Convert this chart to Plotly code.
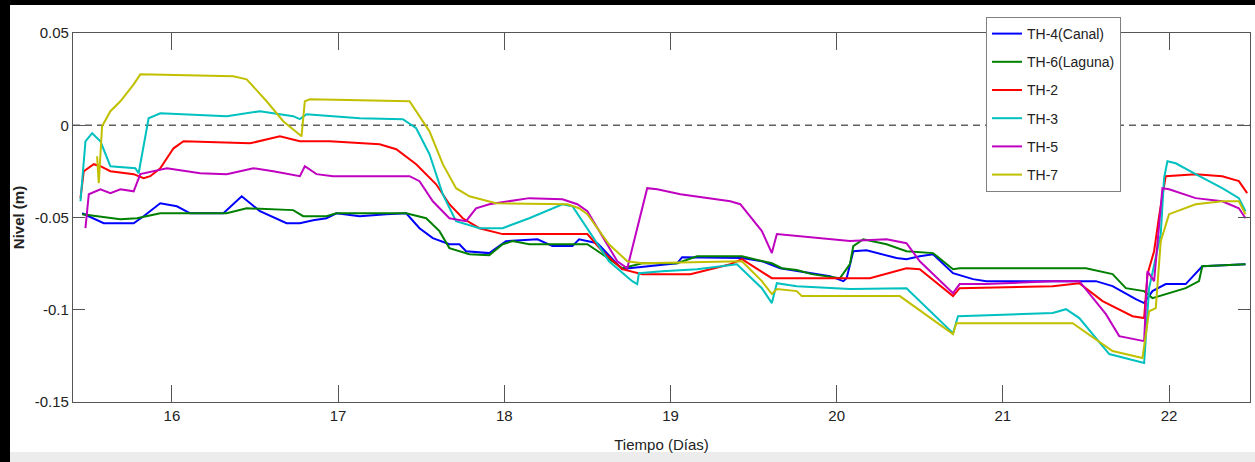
import plotly.graph_objects as go

# ---------------- data ----------------
series_names = ["TH-4(Canal)", "TH-6(Laguna)", "TH-2", "TH-3", "TH-5", "TH-7"]

days_th4 = [15.46, 15.59, 15.77, 15.83, 15.93, 16.03, 16.11, 16.31, 16.42, 16.53,
            16.69, 16.77, 16.85, 16.93, 16.99, 17.13, 17.29, 17.41, 17.49, 17.57,
            17.67, 17.73, 17.77, 17.91, 18.01, 18.20, 18.29, 18.41, 18.45, 18.56,
            18.68, 18.71, 18.75, 19.04, 19.07, 19.43, 19.55, 19.66, 19.96, 20.04,
            20.06, 20.10, 20.18, 20.36, 20.42, 20.50, 20.58, 20.70, 20.82, 20.90,
            21.56, 21.66, 21.80, 21.85, 21.90, 21.98, 22.10, 22.20, 22.46]
nivel_th4 = [-0.0477, -0.0531, -0.0531, -0.0493, -0.0423, -0.0439, -0.0477, -0.0477, -0.0385, -0.0466,
             -0.0531, -0.0531, -0.0515, -0.0504, -0.0477, -0.0493, -0.0482, -0.0477, -0.0558, -0.0612,
             -0.0645, -0.0645, -0.0683, -0.0693, -0.0628, -0.0618, -0.0655, -0.0655, -0.0618, -0.0639,
             -0.0753, -0.0780, -0.0775, -0.0748, -0.0715, -0.0720, -0.0737, -0.0775, -0.0818, -0.0845,
             -0.0829, -0.0683, -0.0677, -0.0720, -0.0726, -0.0710, -0.0699, -0.0802, -0.0834, -0.0845,
             -0.0845, -0.0872, -0.0943, -0.0964, -0.0899, -0.0861, -0.0861, -0.0764, -0.0753]

days_th6 = [15.46, 15.69, 15.79, 15.93, 16.33, 16.45, 16.73, 16.79, 16.93, 16.99,
            17.41, 17.53, 17.61, 17.67, 17.79, 17.91, 17.99, 18.05, 18.15, 18.50,
            18.59, 18.71, 18.83, 19.04, 19.16, 19.43, 19.61, 19.67, 19.76, 19.85,
            20.02, 20.08, 20.10, 20.16, 20.30, 20.42, 20.58, 20.70, 20.74, 21.50,
            21.66, 21.74, 21.85, 21.90, 22.10, 22.18, 22.20, 22.46]
nivel_th6 = [-0.0482, -0.0509, -0.0504, -0.0477, -0.0477, -0.0450, -0.0460, -0.0493, -0.0493, -0.0477,
             -0.0477, -0.0504, -0.0574, -0.0666, -0.0699, -0.0704, -0.0645, -0.0628, -0.0645, -0.0645,
             -0.0699, -0.0775, -0.0748, -0.0748, -0.0710, -0.0710, -0.0748, -0.0775, -0.0785, -0.0807,
             -0.0829, -0.0753, -0.0655, -0.0618, -0.0645, -0.0683, -0.0693, -0.0780, -0.0775, -0.0775,
             -0.0807, -0.0883, -0.0899, -0.0937, -0.0883, -0.0845, -0.0764, -0.0753]

days_th2 = [15.45, 15.47, 15.53, 15.57, 15.63, 15.77, 15.83, 15.87, 15.93, 16.01,
            16.07, 16.47, 16.65, 16.77, 16.95, 17.25, 17.35, 17.47, 17.59, 17.67,
            17.75, 17.85, 17.99, 18.26, 18.50, 18.59, 18.71, 18.83, 19.12, 19.36,
            19.43, 19.61, 20.20, 20.42, 20.50, 20.70, 20.74, 21.30, 21.46, 21.60,
            21.78, 21.85, 21.87, 21.91, 21.94, 21.98, 22.16, 22.32, 22.42, 22.47]
nivel_th2 = [-0.0395, -0.0249, -0.0211, -0.0222, -0.0249, -0.0265, -0.0287, -0.0276, -0.0233, -0.0125,
             -0.0087, -0.0098, -0.0060, -0.0087, -0.0087, -0.0103, -0.0130, -0.0211, -0.0320, -0.0428,
             -0.0504, -0.0558, -0.0590, -0.0590, -0.0590, -0.0683, -0.0780, -0.0807, -0.0807, -0.0753,
             -0.0726, -0.0829, -0.0829, -0.0775, -0.0780, -0.0926, -0.0883, -0.0872, -0.0856, -0.0953,
             -0.1035, -0.1045, -0.0807, -0.0683, -0.0493, -0.0276, -0.0265, -0.0276, -0.0303, -0.0368]

days_th3 = [15.45, 15.48, 15.52, 15.57, 15.63, 15.78, 15.80, 15.86, 15.93, 16.33,
            16.53, 16.73, 16.77, 16.81, 17.13, 17.39, 17.47, 17.55, 17.63, 17.71,
            17.85, 17.99, 18.15, 18.35, 18.41, 18.51, 18.63, 18.77, 18.80, 18.81,
            18.95, 19.16, 19.40, 19.55, 19.61, 19.64, 19.76, 20.08, 20.42, 20.70,
            20.73, 21.30, 21.38, 21.46, 21.64, 21.85, 21.88, 21.95, 21.97, 21.99,
            22.04, 22.16, 22.32, 22.42, 22.46]
nivel_th3 = [-0.0412, -0.0087, -0.0043, -0.0087, -0.0222, -0.0233, -0.0260, 0.0038, 0.0065, 0.0049,
             0.0076, 0.0049, 0.0033, 0.0060, 0.0038, 0.0033, -0.0016, -0.0157, -0.0374, -0.0520,
             -0.0558, -0.0558, -0.0504, -0.0428, -0.0439, -0.0574, -0.0737, -0.0845, -0.0861, -0.0802,
             -0.0791, -0.0780, -0.0753, -0.0883, -0.0964, -0.0856, -0.0872, -0.0888, -0.0883, -0.1127,
             -0.1035, -0.1018, -0.0997, -0.1045, -0.1240, -0.1289, -0.0883, -0.0590, -0.0287, -0.0195,
             -0.0206, -0.0265, -0.0341, -0.0395, -0.0466]

days_th5 = [15.48, 15.50, 15.57, 15.63, 15.69, 15.77, 15.81, 15.93, 15.97, 16.17,
            16.33, 16.49, 16.61, 16.77, 16.80, 16.87, 16.97, 17.43, 17.49, 17.57,
            17.67, 17.77, 17.83, 17.91, 18.15, 18.35, 18.44, 18.50, 18.68, 18.74,
            18.80, 18.86, 18.92, 19.06, 19.36, 19.42, 19.55, 19.61, 19.64, 19.76,
            20.08, 20.30, 20.42, 20.50, 20.70, 20.74, 20.90, 21.30, 21.46, 21.62,
            21.70, 21.85, 21.87, 21.91, 21.96, 22.00, 22.16, 22.32, 22.42, 22.46]
nivel_th5 = [-0.0558, -0.0374, -0.0347, -0.0368, -0.0347, -0.0358, -0.0265, -0.0238, -0.0233, -0.0260,
             -0.0265, -0.0233, -0.0249, -0.0276, -0.0222, -0.0265, -0.0276, -0.0276, -0.0303, -0.0412,
             -0.0504, -0.0520, -0.0450, -0.0428, -0.0395, -0.0401, -0.0428, -0.0466, -0.0737, -0.0775,
             -0.0558, -0.0341, -0.0347, -0.0374, -0.0412, -0.0428, -0.0574, -0.0693, -0.0590, -0.0601,
             -0.0628, -0.0618, -0.0639, -0.0737, -0.0910, -0.0861, -0.0861, -0.0845, -0.0845, -0.1024,
             -0.1143, -0.1170, -0.0791, -0.0845, -0.0341, -0.0347, -0.0395, -0.0412, -0.0450, -0.0504]

days_th7 = [15.55, 15.56, 15.58, 15.63, 15.69, 15.77, 15.81, 16.37, 16.45, 16.57,
            16.67, 16.78, 16.80, 16.83, 17.43, 17.55, 17.63, 17.71, 17.79, 17.95,
            18.38, 18.45, 18.50, 18.63, 18.74, 18.83, 19.43, 19.55, 19.61, 19.64,
            19.76, 19.79, 20.38, 20.70, 20.72, 21.42, 21.66, 21.84, 21.88, 21.92,
            21.95, 22.00, 22.16, 22.32, 22.42, 22.46]
nivel_th7 = [-0.0168, -0.0314, -0.0005, 0.0076, 0.0130, 0.0222, 0.0276, 0.0265, 0.0249, 0.0130,
             0.0022, -0.0060, 0.0130, 0.0141, 0.0130, -0.0033, -0.0211, -0.0341, -0.0385, -0.0423,
             -0.0428, -0.0450, -0.0482, -0.0645, -0.0737, -0.0748, -0.0737, -0.0845, -0.0915, -0.0888,
             -0.0899, -0.0926, -0.0926, -0.1132, -0.1073, -0.1073, -0.1224, -0.1262, -0.1008, -0.0991,
             -0.0628, -0.0482, -0.0428, -0.0412, -0.0412, -0.0482]

x_tick_vals = [16, 17, 18, 19, 20, 21, 22]
x_tick_text = ["16", "17", "18", "19", "20", "21", "22"]
y_tick_vals = [0.05, 0, -0.05, -0.1, -0.15]
y_tick_text = ["0.05", "0", "-0.05", "-0.1", "-0.15"]
reference_level = 0

# ---------------- styling ----------------
colors = ["#0000ff", "#008000", "#ff0000", "#00c0c0", "#c000c0", "#c0c000"]
W, H = 1255, 462
L, R, T, B = 73, 5, 33, 60
pw, ph = W - L - R, H - T - B


def pxx(px):
    return (px - L) / pw


def pxy(py):
    return (H - B - py) / ph


series = [
    (days_th4, nivel_th4), (days_th6, nivel_th6), (days_th2, nivel_th2),
    (days_th3, nivel_th3), (days_th5, nivel_th5), (days_th7, nivel_th7),
]

fig = go.Figure()
for name, color, (xs, ys) in zip(series_names, colors, series):
    fig.add_trace(go.Scatter(
        x=xs, y=ys, mode="lines", name=name, legendgroup=name,
        line=dict(color=color, width=2),
    ))

font_family = "Arial, Liberation Sans, sans-serif"
axis_common = dict(
    showgrid=False, zeroline=False, showline=True, linecolor="#555555",
    linewidth=1.3, mirror="allticks", ticks="inside", tickcolor="#555555",
    tickwidth=1.3, tickfont=dict(family=font_family, size=15, color="#222222"),
)

fig.update_layout(
    width=W, height=H,
    margin=dict(l=L, r=R, t=T, b=B, autoexpand=False),
    paper_bgcolor="white", plot_bgcolor="white",
    showlegend=True,
    legend=dict(
        x=pxx(986), y=pxy(17), xanchor="left", yanchor="top",
        bgcolor="white", bordercolor="#808080", borderwidth=1,
        font=dict(family=font_family, size=14, color="#222222"),
        tracegroupgap=7, traceorder="grouped",
    ),
    xaxis=dict(
        range=[15.405, 22.487], tickvals=x_tick_vals, ticktext=x_tick_text,
        ticklen=17,
        title=dict(text="Tiempo (Días)", standoff=16,
                   font=dict(family=font_family, size=15, color="#222222")),
        **axis_common,
    ),
    yaxis=dict(
        range=[-0.15, 0.05], tickvals=y_tick_vals, ticktext=y_tick_text,
        ticklen=12,
        title=dict(text="<b>Nivel (m)</b>", standoff=6,
                   font=dict(family=font_family, size=15, color="#222222")),
        **axis_common,
    ),
    shapes=[
        # dashed zero reference line
        dict(type="line", xref="paper", yref="y", x0=0, x1=1,
             y0=reference_level, y1=reference_level,
             line=dict(color="#606060", width=1.5, dash="7px,5px"), layer="below"),
        # photo frame: black left and top bands, light bottom strip
        dict(type="rect", xref="paper", yref="paper", x0=pxx(0), x1=pxx(10),
             y0=pxy(H), y1=pxy(0), fillcolor="black", line=dict(width=0), layer="above"),
        dict(type="rect", xref="paper", yref="paper", x0=pxx(0), x1=pxx(W),
             y0=pxy(5), y1=pxy(0), fillcolor="black", line=dict(width=0), layer="above"),
        dict(type="rect", xref="paper", yref="paper", x0=pxx(10), x1=pxx(W),
             y0=pxy(H), y1=pxy(452), fillcolor="#ececec", line=dict(width=0), layer="below"),
    ],
)

fig.write_html("out.html")
